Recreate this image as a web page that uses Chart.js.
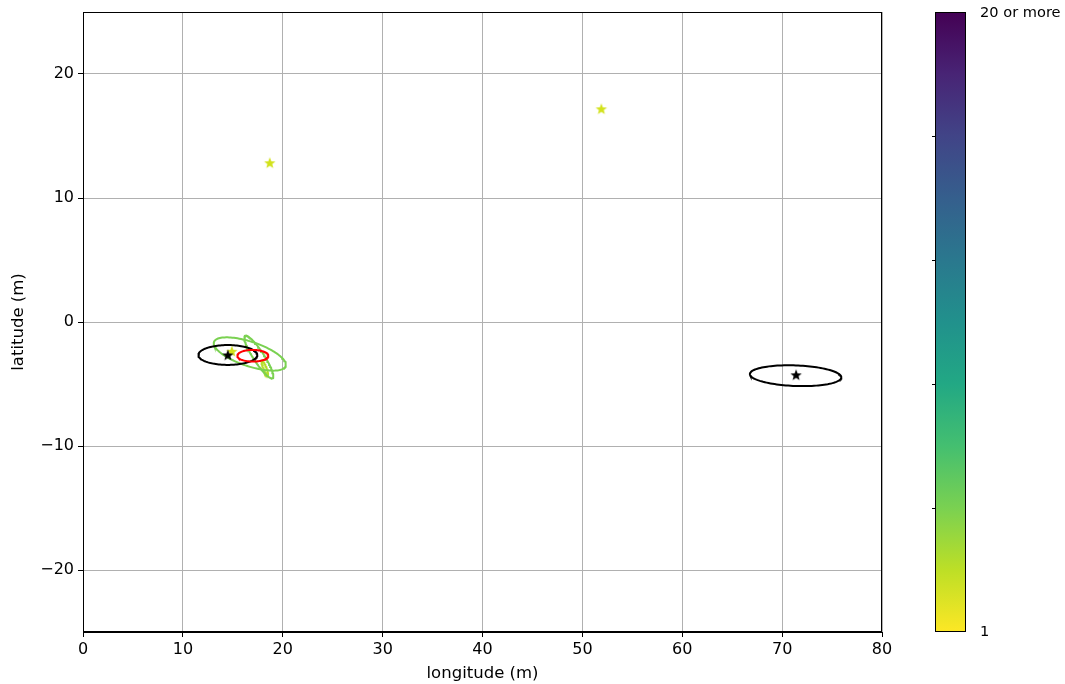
<!DOCTYPE html>
<html>
<head>
<meta charset="utf-8">
<script src="https://cdn.jsdelivr.net/npm/chart.js@4.4.1/dist/chart.umd.min.js"></script>
<style>
  html, body { margin: 0; padding: 0; background: #fff; }
</style>
</head>
<body>
<canvas id="chart" width="1065" height="684"></canvas>
<script>
const xTicks = [0, 10, 20, 30, 40, 50, 60, 70, 80];
const yTicks = [-20, -10, 0, 10, 20];

const yellowStarX = [18.7, 51.9, 14.9];
const yellowStarY = [12.8, 17.15, -2.4];
const blackStarX = [14.5, 71.4];
const blackStarY = [-2.7, -4.3];

// ellipses: centre, half axes (data units), rotation in degrees
const ellipseX = [14.5, 71.35, 17.0, 16.7, 17.6, 18.2];
const ellipseY = [-2.66, -4.33, -2.72, -2.58, -2.82, -3.7];
const ellipseA = [2.95, 4.58, 1.55, 3.72, 2.2, 0.64];
const ellipseB = [0.8, 0.83, 0.47, 1.0, 0.5, 0.15];
const ellipseAngle = [0, -1.7, 0, -14.5, -50.4, -62];
const ellipseColor = ['#000000', '#000000', '#ff0000', '#7ad151', '#7ad151', '#b5de2b'];
const ellipseOrder = [3, 3, 2, 4, 4, 4];

const colorbarLabels = ['20 or more', '1'];
const colorbarMinorTicks = [0.2, 0.4, 0.6, 0.8];
const viridisStops = ['#440154', '#482475', '#414487', '#355f8d', '#2a788e', '#21918c',
  '#22a884', '#44bf70', '#7ad151', '#bddf26', '#fde725'];

const FONT = 'DejaVu Sans';
Chart.defaults.color = '#000';
Chart.defaults.font.family = FONT;
Chart.defaults.font.size = 16;

function starImage(r, color) {
  const c = document.createElement('canvas');
  c.width = c.height = 2 * r + 2;
  const g = c.getContext('2d');
  g.fillStyle = color;
  g.beginPath();
  for (let k = 0; k < 10; k++) {
    const rad = k % 2 ? r * 0.42 : r;
    const a = -Math.PI / 2 + k * Math.PI / 5;
    g.lineTo(r + 1 + rad * Math.cos(a), r + 1 + rad * Math.sin(a));
  }
  g.closePath();
  g.fill();
  return c;
}

function ellipsePoints(i) {
  const pts = [];
  const rot = ellipseAngle[i] * Math.PI / 180;
  for (let k = 0; k <= 120; k++) {
    const t = (k / 120) * 2 * Math.PI;
    const ex = ellipseA[i] * Math.cos(t);
    const ey = ellipseB[i] * Math.sin(t);
    pts.push({
      x: ellipseX[i] + ex * Math.cos(rot) - ey * Math.sin(rot),
      y: ellipseY[i] + ex * Math.sin(rot) + ey * Math.cos(rot),
    });
  }
  return pts;
}

const minus = (v) => (v < 0 ? '\u2212' + Math.abs(v) : String(v));

const datasets = [
  {
    label: 'black stars',
    data: blackStarX.map((x, i) => ({ x, y: blackStarY[i] })),
    pointStyle: starImage(6, '#000'),
    showLine: false,
    order: 0,
  },
  {
    label: 'yellow stars',
    data: yellowStarX.map((x, i) => ({ x, y: yellowStarY[i] })),
    pointStyle: starImage(6, '#d2e21b'),
    showLine: false,
    order: 1,
  },
  ...ellipseX.map((_, i) => ({
    label: 'ellipse ' + i,
    data: ellipsePoints(i),
    showLine: true,
    borderColor: ellipseColor[i],
    borderWidth: 2,
    pointRadius: 0,
    tension: 0,
    fill: false,
    order: ellipseOrder[i],
  })),
];

const framePlugin = {
  id: 'frame',
  afterDraw(chart) {
    const { ctx, chartArea: a } = chart;
    ctx.save();
    ctx.strokeStyle = '#000';
    ctx.lineWidth = 1;
    ctx.strokeRect(a.left + 0.5, a.top + 0.5, a.right - a.left - 1, a.bottom - a.top - 1);

    // colorbar
    const x0 = 935, x1 = 966;
    const grad = ctx.createLinearGradient(0, a.top, 0, a.bottom);
    viridisStops.forEach((c, i) => grad.addColorStop(i / (viridisStops.length - 1), c));
    ctx.fillStyle = grad;
    ctx.fillRect(x0, a.top, x1 - x0, a.bottom - a.top);
    ctx.strokeRect(x0 + 0.5, a.top + 0.5, x1 - x0 - 1, a.bottom - a.top - 1);
    colorbarMinorTicks.forEach((f) => {
      const y = Math.round(a.top + f * (a.bottom - a.top)) + 0.5;
      ctx.beginPath();
      ctx.moveTo(x0 - 3, y);
      ctx.lineTo(x0, y);
      ctx.stroke();
    });
    ctx.fillStyle = '#000';
    ctx.font = '14.6px ' + FONT;
    ctx.textBaseline = 'middle';
    ctx.textAlign = 'left';
    ctx.fillText(colorbarLabels[0], 980, a.top + 1);
    ctx.fillText(colorbarLabels[1], 980, a.bottom);
    ctx.restore();
  },
};

new Chart(document.getElementById('chart'), {
  type: 'scatter',
  data: { datasets },
  options: {
    responsive: false,
    animation: false,
    events: [],
    layout: { padding: { top: 12, right: 183, left: 0, bottom: 0 } },
    plugins: { legend: { display: false }, tooltip: { enabled: false } },
    scales: {
      x: {
        type: 'linear',
        min: 0,
        max: 80,
        afterBuildTicks: (s) => { s.ticks = xTicks.map((v) => ({ value: v })); },
        afterFit: (s) => { s.height = 52; s.paddingLeft = 0; s.paddingRight = 0; },
        ticks: { callback: minus, padding: 3, maxRotation: 0 },
        grid: { color: '#b0b0b0', lineWidth: 1, tickLength: 5, tickColor: '#000' },
        border: { color: '#000' },
        title: { display: true, text: 'longitude (m)', font: { size: 16.5 }, padding: { top: 0, bottom: 0 } },
      },
      y: {
        type: 'linear',
        min: -25,
        max: 25,
        afterBuildTicks: (s) => { s.ticks = yTicks.map((v) => ({ value: v })); },
        afterFit: (s) => { s.width = 83; s.paddingTop = 0; s.paddingBottom = 0; },
        ticks: { callback: minus, padding: 4 },
        grid: { color: '#b0b0b0', lineWidth: 1, tickLength: 5, tickColor: '#000' },
        border: { color: '#000' },
        title: { display: true, text: 'latitude (m)', font: { size: 16.5 }, padding: { top: 8.6, bottom: 0 } },
      },
    },
  },
  plugins: [framePlugin],
});
</script>
</body>
</html>
